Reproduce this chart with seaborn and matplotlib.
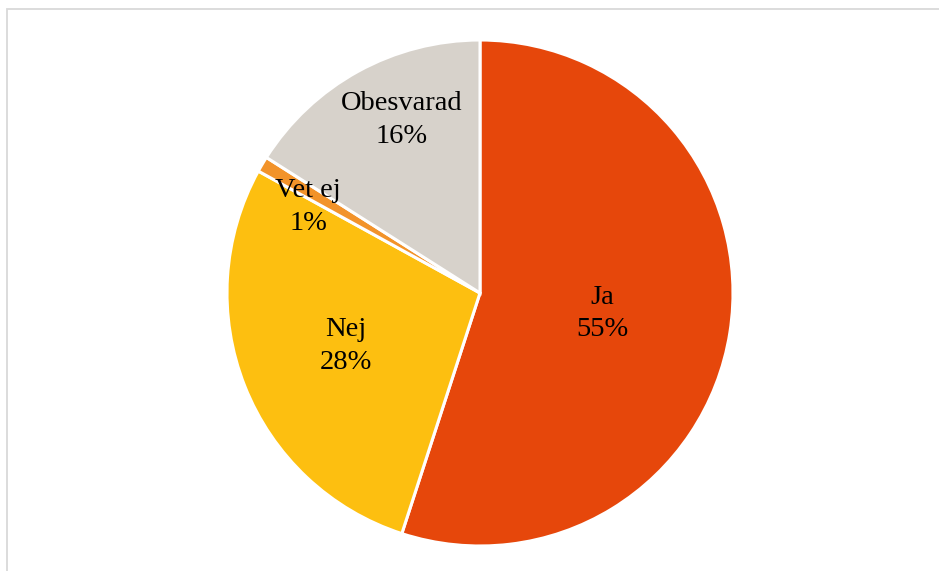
import numpy as np
import matplotlib
matplotlib.use("Agg")
import matplotlib.pyplot as plt
from matplotlib.patches import Rectangle
import seaborn as sns

# Survey answers
categories = ["Ja", "Nej", "Vet ej", "Obesvarad"]
shares = [55, 28, 1, 16]
colors = ["#E6470B", "#FDBF10", "#F2932A", "#D7D2CB"]

# radial distance of each label from the centre (fraction of radius)
label_dist = [0.49, 0.57, 0.76, 0.75]
label_turn = [-0.5, 0.0, 4.0, -4.5]  # small angular nudges in degrees

sns.set_theme(style="white")
plt.rcParams["font.family"] = ["Liberation Serif", "DejaVu Serif"]

W, H = 939, 571
fig = plt.figure(figsize=(W / 100, H / 100), dpi=100)
fig.patch.set_facecolor("white")

cx, cy, r = 480, 293, 253
ax = fig.add_axes([(cx - r) / W, (H - cy - r) / H, 2 * r / W, 2 * r / H])

wedges, _ = ax.pie(
    shares,
    colors=colors,
    startangle=90,
    counterclock=False,
    radius=1.0,
    wedgeprops=dict(edgecolor="white", linewidth=2.2),
)
ax.set_xlim(-1, 1)
ax.set_ylim(-1, 1)
ax.set_aspect("equal")
ax.axis("off")

for w, name, val, d, turn in zip(wedges, categories, shares, label_dist, label_turn):
    mid = np.deg2rad((w.theta1 + w.theta2) / 2 + turn)
    ax.text(d * np.cos(mid), d * np.sin(mid), f"{name}\n{val}%",
            ha="center", va="center", fontsize=20.5, color="black",
            linespacing=1.4)

# light frame around the chart area
fig.patches.append(Rectangle((6.5 / W, -0.05), 1.0, (H - 9.5) / H + 0.05,
                             transform=fig.transFigure, fill=False,
                             edgecolor="#D9D9D9", linewidth=1.3))

fig.savefig("out.png", dpi=100, facecolor="white")
